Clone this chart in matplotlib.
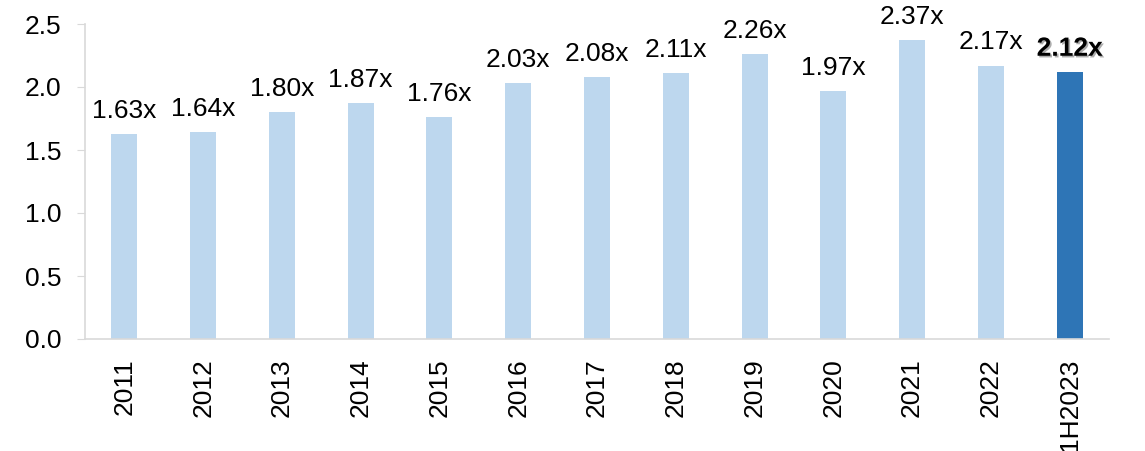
import matplotlib
matplotlib.use("Agg")
import matplotlib.pyplot as plt
import matplotlib.patheffects as pe

plt.rcParams['font.family'] = ['Liberation Sans', 'DejaVu Sans']

years = ['2011', '2012', '2013', '2014', '2015', '2016', '2017', '2018',
         '2019', '2020', '2021', '2022', '1H2023']
multiples = [1.63, 1.64, 1.80, 1.87, 1.76, 2.03, 2.08, 2.11, 2.26, 1.97, 2.37, 2.17, 2.12]

light = '#BDD7EE'
dark = '#2E75B6'

fig = plt.figure(figsize=(11.45, 4.51), dpi=100)
ax = fig.add_axes([85 / 1145, 1 - 339 / 451, (1109 - 85) / 1145, (339 - 24) / 451])

colors = [light] * (len(years) - 1) + [dark]
x = range(len(years))
ax.bar(x, multiples, width=0.33, color=colors)

for i, v in enumerate(multiples):
    last = i == len(multiples) - 1
    t = ax.annotate(f"{v:.2f}x", (i, v), xytext=(0, 8), textcoords='offset points',
                    ha='center', va='bottom', fontsize=19,
                    fontweight='bold' if last else 'normal', color='black',
                    annotation_clip=False)
    if last:
        t.set_path_effects([pe.withSimplePatchShadow(offset=(1.2, -1.2),
                                                      shadow_rgbFace='#777777', alpha=0.6)])

ax.set_xlim(-0.5, len(years) - 0.5)
ax.set_ylim(0, 2.5)
ax.set_yticks([0, 0.5, 1.0, 1.5, 2.0, 2.5])
ax.set_yticklabels([f"{t:.1f}" for t in [0, 0.5, 1.0, 1.5, 2.0, 2.5]])
ax.set_xticks(list(x))
ax.set_xticklabels(years, rotation=90)

for s in ['top', 'right']:
    ax.spines[s].set_visible(False)
for s in ['left', 'bottom']:
    ax.spines[s].set_color('#D9D9D9')
    ax.spines[s].set_linewidth(1.2)

ax.tick_params(axis='y', length=6, color='#D9D9D9', labelsize=19, pad=11)
ax.tick_params(axis='x', length=0, labelsize=19, pad=14)

fig.savefig('out.png', dpi=100)
